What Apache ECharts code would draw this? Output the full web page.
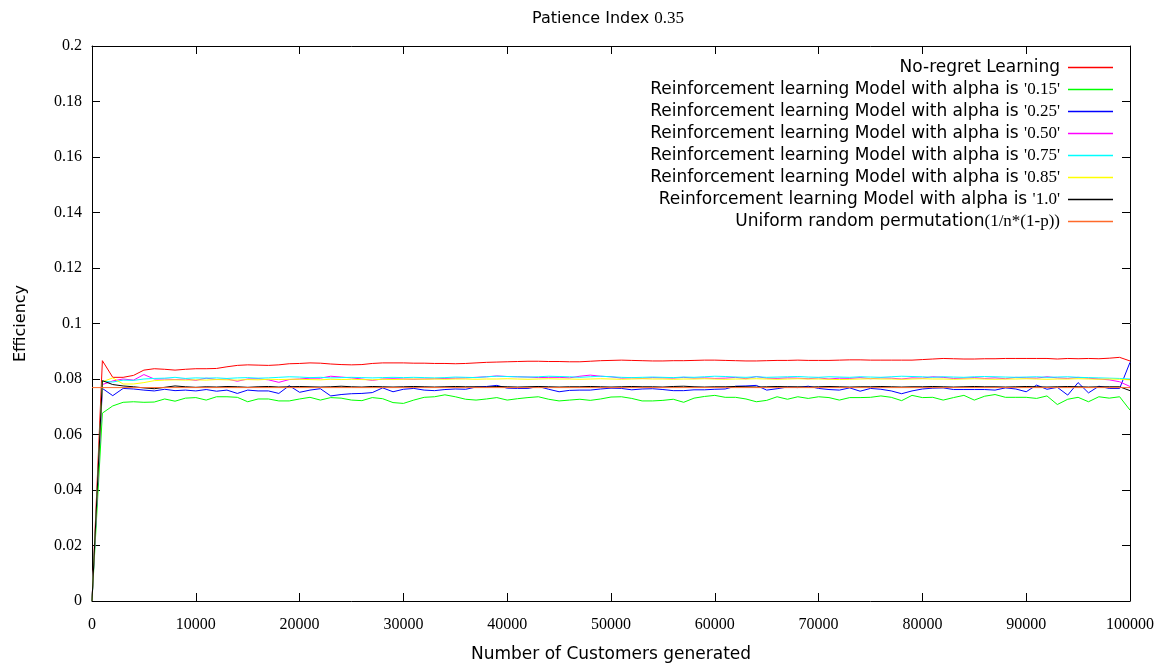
<!DOCTYPE html>
<html>
<head>
<meta charset="utf-8">
<title>Patience Index 0.35</title>
<script src="https://cdn.jsdelivr.net/npm/echarts@6/dist/echarts.min.js"></script>
<style>
  html, body { margin: 0; padding: 0; background: #fff; }
  #chart { width: 1166px; height: 670px; }
</style>
</head>
<body>
<div id="chart"></div>
<script>
// Number of customers generated (sampled every 1000)
const customers = [
  0, 1000, 2000, 3000, 4000, 5000, 6000, 7000, 8000, 9000,
  10000, 11000, 12000, 13000, 14000, 15000, 16000, 17000, 18000, 19000,
  20000, 21000, 22000, 23000, 24000, 25000, 26000, 27000, 28000, 29000,
  30000, 31000, 32000, 33000, 34000, 35000, 36000, 37000, 38000, 39000,
  40000, 41000, 42000, 43000, 44000, 45000, 46000, 47000, 48000, 49000,
  50000, 51000, 52000, 53000, 54000, 55000, 56000, 57000, 58000, 59000,
  60000, 61000, 62000, 63000, 64000, 65000, 66000, 67000, 68000, 69000,
  70000, 71000, 72000, 73000, 74000, 75000, 76000, 77000, 78000, 79000,
  80000, 81000, 82000, 83000, 84000, 85000, 86000, 87000, 88000, 89000,
  90000, 91000, 92000, 93000, 94000, 95000, 96000, 97000, 98000, 99000,
  100000
];

const noRegret = [
  0, .0866, .0806, .0806, .0813, .0832, .0837, .0835, .0832, .0835,
  .0837, .0837, .0838, .0844, .0849, .0851, .0850, .0849, .0851, .0855,
  .0856, .0858, .0857, .0854, .0852, .0851, .0852, .0856, .0858, .0858,
  .0858, .0857, .0857, .0856, .0856, .0855, .0856, .0858, .0860, .0861,
  .0862, .0863, .0864, .0864, .0863, .0863, .0862, .0862, .0864, .0866,
  .0867, .0868, .0867, .0866, .0865, .0865, .0866, .0866, .0867, .0868,
  .0868, .0867, .0866, .0865, .0865, .0866, .0867, .0867, .0868, .0867,
  .0867, .0867, .0868, .0869, .0869, .0868, .0868, .0868, .0868, .0868,
  .0870, .0872, .0874, .0873, .0872, .0872, .0873, .0873, .0874, .0874,
  .0874, .0874, .0874, .0872, .0874, .0873, .0874, .0873, .0875, .0878,
  .0865
];

const alpha015 = [
  0, .0677, .0703, .0716, .0718, .0716, .0717, .0728, .0720, .0731,
  .0733, .0724, .0736, .0736, .0734, .0718, .0728, .0728, .0721, .0721,
  .0728, .0734, .0724, .0733, .0731, .0724, .0722, .0733, .0729, .0715,
  .0712, .0724, .0734, .0736, .0743, .0736, .0727, .0724, .0728, .0733,
  .0724, .0729, .0733, .0736, .0727, .0721, .0724, .0727, .0723, .0728,
  .0735, .0736, .0730, .0721, .0721, .0723, .0727, .0716, .0731, .0737,
  .0741, .0734, .0734, .0728, .0718, .0723, .0736, .0727, .0736, .0730,
  .0736, .0733, .0724, .0733, .0733, .0734, .0739, .0734, .0722, .0741,
  .0733, .0734, .0724, .0733, .0741, .0724, .0738, .0744, .0734, .0734,
  .0734, .0730, .0739, .0708, .0727, .0734, .0718, .0736, .0731, .0736,
  .0688
];

const alpha025 = [
  0, .0766, .0740, .0766, .0764, .0760, .0757, .0763, .0758, .0760,
  .0757, .0762, .0756, .0760, .0748, .0760, .0757, .0757, .0748, .0776,
  .0752, .0760, .0765, .0739, .0744, .0747, .0748, .0751, .0768, .0754,
  .0763, .0766, .0760, .0758, .0762, .0764, .0763, .0771, .0773, .0777,
  .0767, .0766, .0766, .0773, .0763, .0754, .0759, .0760, .0760, .0764,
  .0767, .0766, .0761, .0764, .0765, .0762, .0758, .0758, .0761, .0761,
  .0763, .0764, .0774, .0775, .0777, .0760, .0765, .0771, .0769, .0774,
  .0766, .0762, .0760, .0768, .0756, .0766, .0763, .0757, .0747, .0757,
  .0764, .0767, .0768, .0762, .0762, .0762, .0762, .0760, .0768, .0764,
  .0754, .0778, .0763, .0770, .0742, .0787, .0750, .0774, .0766, .0766,
  .0860
];

const alpha050 = [
  0, .0780, .0793, .0800, .0796, .0816, .0800, .0800, .0798, .0800,
  .0795, .0803, .0798, .0800, .0792, .0800, .0801, .0797, .0788, .0798,
  .0800, .0803, .0803, .0810, .0807, .0804, .0800, .0795, .0800, .0801,
  .0800, .0799, .0800, .0801, .0802, .0803, .0804, .0806, .0808, .0811,
  .0809, .0808, .0807, .0805, .0806, .0806, .0804, .0810, .0814, .0810,
  .0808, .0803, .0804, .0802, .0805, .0804, .0803, .0806, .0803, .0804,
  .0802, .0803, .0806, .0801, .0809, .0803, .0802, .0804, .0803, .0801,
  .0804, .0800, .0803, .0802, .0805, .0801, .0804, .0803, .0800, .0804,
  .0803, .0808, .0806, .0802, .0803, .0805, .0802, .0804, .0801, .0806,
  .0804, .0803, .0808, .0804, .0802, .0806, .0803, .0800, .0797, .0790,
  .0773
];

const alpha075 = [
  0, .0793, .0789, .0796, .0795, .0800, .0802, .0803, .0806, .0802,
  .0804, .0803, .0804, .0802, .0804, .0805, .0803, .0804, .0806, .0808,
  .0807, .0805, .0806, .0804, .0805, .0806, .0805, .0804, .0805, .0806,
  .0805, .0806, .0805, .0804, .0805, .0807, .0806, .0805, .0808, .0810,
  .0809, .0808, .0807, .0808, .0810, .0809, .0808, .0806, .0808, .0810,
  .0808, .0806, .0805, .0806, .0807, .0806, .0805, .0807, .0806, .0808,
  .0810, .0809, .0807, .0806, .0808, .0806, .0807, .0808, .0809, .0807,
  .0806, .0808, .0807, .0806, .0808, .0807, .0806, .0808, .0810, .0809,
  .0808, .0806, .0808, .0807, .0806, .0808, .0809, .0808, .0807, .0806,
  .0807, .0808, .0806, .0807, .0808, .0806, .0805, .0804, .0803, .0802,
  .0800
];

const alpha085 = [
  0, .0790, .0804, .0782, .0782, .0787, .0794, .0796, .0797, .0796,
  .0797, .0796, .0798, .0797, .0796, .0798, .0797, .0799, .0798, .0799,
  .0799, .0798, .0797, .0799, .0798, .0799, .0798, .0797, .0799, .0798,
  .0799, .0800, .0799, .0800, .0799, .0800, .0800, .0799, .0800, .0800,
  .0801, .0800, .0799, .0800, .0801, .0800, .0800, .0799, .0800, .0801,
  .0800, .0799, .0800, .0801, .0800, .0800, .0799, .0800, .0800, .0801,
  .0800, .0799, .0800, .0800, .0801, .0800, .0799, .0800, .0801, .0800,
  .0800, .0799, .0798, .0799, .0800, .0801, .0800, .0800, .0799, .0800,
  .0801, .0800, .0800, .0799, .0800, .0801, .0800, .0799, .0800, .0800,
  .0801, .0800, .0799, .0800, .0800, .0801, .0800, .0799, .0800, .0799,
  .0797
];

const alpha100 = [
  0, .0794, .0780, .0775, .0772, .0768, .0765, .0770, .0775, .0772,
  .0770, .0772, .0771, .0773, .0772, .0770, .0772, .0773, .0771, .0772,
  .0773, .0772, .0771, .0772, .0774, .0772, .0771, .0773, .0772, .0771,
  .0772, .0773, .0772, .0771, .0772, .0773, .0772, .0772, .0771, .0773,
  .0772, .0771, .0772, .0773, .0772, .0771, .0772, .0772, .0773, .0772,
  .0771, .0772, .0773, .0772, .0772, .0771, .0773, .0774, .0772, .0771,
  .0772, .0772, .0773, .0772, .0771, .0772, .0773, .0772, .0772, .0771,
  .0772, .0773, .0772, .0771, .0772, .0772, .0773, .0772, .0771, .0772,
  .0772, .0773, .0772, .0771, .0772, .0773, .0772, .0772, .0771, .0772,
  .0773, .0772, .0771, .0772, .0773, .0772, .0771, .0772, .0772, .0772,
  .0758
];

// Uniform random permutation baseline, flat across the whole range
const uniformX = [0, 100000];
const uniformY = [0.0769, 0.0769];

const yTicks = { min: 0, max: 0.2, interval: 0.02 };
const xTicks = { min: 0, max: 100000, interval: 10000 };

const seriesDefs = [
  { name: "No-regret Learning", color: "#ff0000", x: customers, y: noRegret },
  { name: "Reinforcement learning Model with alpha is '0.15'", color: "#00ff00", x: customers, y: alpha015 },
  { name: "Reinforcement learning Model with alpha is '0.25'", color: "#0000ff", x: customers, y: alpha025 },
  { name: "Reinforcement learning Model with alpha is '0.50'", color: "#ff00ff", x: customers, y: alpha050 },
  { name: "Reinforcement learning Model with alpha is '0.75'", color: "#00ffff", x: customers, y: alpha075 },
  { name: "Reinforcement learning Model with alpha is '0.85'", color: "#ffff00", x: customers, y: alpha085 },
  { name: "Reinforcement learning Model with alpha is '1.0'", color: "#000000", x: customers, y: alpha100 },
  { name: "Uniform random permutation(1/n*(1-p))", color: "#ff6a2a", x: uniformX, y: uniformY }
];

const SANS = "'DejaVu Sans', sans-serif";
const SERIF = "'Liberation Serif', 'DejaVu Serif', serif";

// Legend labels: numbers and formulas are set in the serif face
function legendLabel(name) {
  const q = name.indexOf("'");
  if (q >= 0) return name.slice(0, q) + "{s|" + name.slice(q) + "}";
  const p = name.indexOf("(");
  if (p >= 0) return name.slice(0, p) + "{s|" + name.slice(p) + "}";
  return name;
}

const chart = echarts.init(document.getElementById('chart'), null, { renderer: 'canvas' });

// Box border: every axis line stays on its own edge of the grid
const axisLineStyle = { show: true, onZero: false, lineStyle: { color: '#000', width: 1 } };
const tickStyle = { show: true, inside: true, length: 8, lineStyle: { color: '#000', width: 1 } };

chart.setOption({
  animation: false,
  backgroundColor: '#fff',
  title: {
    text: 'Patience Index {n|0.35}',
    left: 527,
    top: 5,
    textStyle: {
      fontFamily: SANS, fontSize: 16, fontWeight: 'normal', color: '#000',
      rich: { n: { fontFamily: SERIF, fontSize: 17, color: '#000' } }
    }
  },
  grid: { left: 92, right: 36, top: 46, bottom: 69, containLabel: false },
  legend: {
    orient: 'vertical',
    right: 48,
    top: 52,
    align: 'right',
    icon: 'rect',
    itemWidth: 45,
    itemHeight: 1.5,
    itemGap: 1,
    selectedMode: false,
    data: seriesDefs.map(s => ({ name: s.name, itemStyle: { color: s.color } })),
    formatter: legendLabel,
    textStyle: {
      fontFamily: SANS, fontSize: 17, color: '#000', lineHeight: 21,
      width: 475, align: 'right', padding: [0, 3, 0, 0],
      rich: { s: { fontFamily: SERIF, fontSize: 17, color: '#000', lineHeight: 21 } }
    }
  },
  xAxis: [
    {
      type: 'value', position: 'bottom', ...xTicks,
      name: 'Number of Customers generated', nameLocation: 'middle', nameGap: 45,
      nameTextStyle: { fontFamily: SANS, fontSize: 17, color: '#000' },
      axisLine: axisLineStyle, axisTick: tickStyle, splitLine: { show: false },
      axisLabel: {
        margin: 16, fontFamily: SERIF, fontSize: 16, color: '#000',
        formatter: v => String(v)
      }
    },
    {
      type: 'value', position: 'top', ...xTicks,
      axisLine: axisLineStyle, axisTick: tickStyle, splitLine: { show: false },
      axisLabel: { show: false }
    }
  ],
  yAxis: [
    {
      type: 'value', position: 'left', ...yTicks,
      name: 'Efficiency', nameLocation: 'middle', nameGap: 63, nameRotate: 90,
      nameTextStyle: { fontFamily: SANS, fontSize: 16, color: '#000' },
      axisLine: axisLineStyle, axisTick: tickStyle, splitLine: { show: false },
      axisLabel: {
        margin: 10, fontFamily: SERIF, fontSize: 16, color: '#000',
        formatter: v => String(+v.toFixed(2))
      }
    },
    {
      type: 'value', position: 'right', ...yTicks,
      axisLine: axisLineStyle, axisTick: tickStyle, splitLine: { show: false },
      axisLabel: { show: false }
    }
  ],
  series: seriesDefs.map(s => ({
    name: s.name,
    type: 'line',
    xAxisIndex: 0,
    yAxisIndex: 0,
    showSymbol: false,
    symbol: 'none',
    color: s.color,
    lineStyle: { color: s.color, width: 1 },
    emphasis: { disabled: true },
    data: s.x.map((x, i) => [x, s.y[i]])
  }))
});
</script>
</body>
</html>
